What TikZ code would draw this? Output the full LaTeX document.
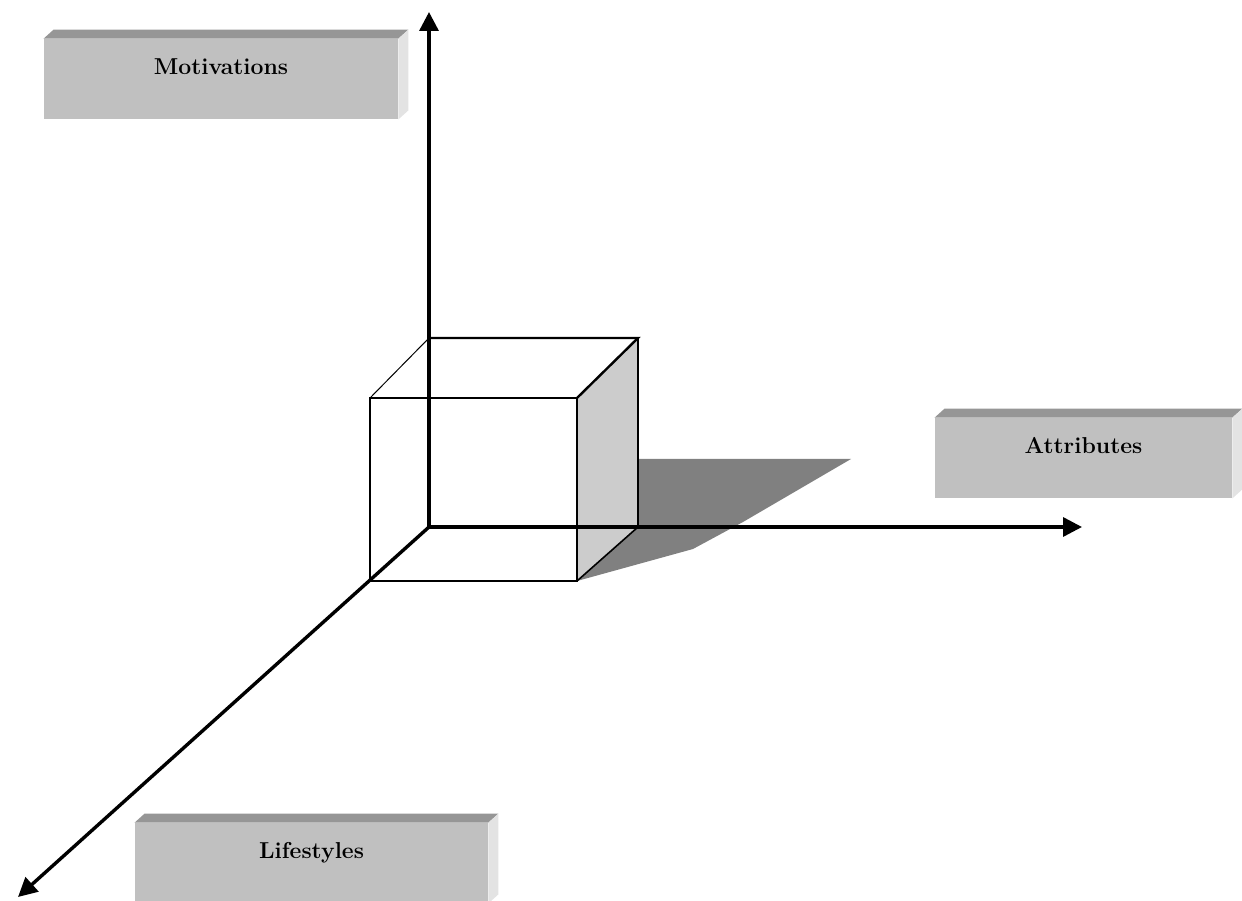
\documentclass[tikz,border=0pt]{standalone}
\usepackage{tikz}
\usetikzlibrary{arrows.meta}

\definecolor{panelfront}{HTML}{C0C0C0}
\definecolor{paneltop}{HTML}{969696}
\definecolor{panelside}{HTML}{E3E3E3}
\definecolor{faceside}{HTML}{CCCCCC}
\definecolor{shadowgray}{HTML}{808080}

\begin{document}
\begin{tikzpicture}[x=0.5pt, y=0.5pt, >={Triangle[length=9.5pt, width=9.5pt]},
  axis/.style={line width=1.7pt, ->},
  edge/.style={line width=1.2pt, line join=miter},
  panel/.style={fill=panelfront, minimum width=#1, minimum height=40pt, inner sep=0pt,
    text height=10pt, text depth=14.4pt, font=\fontsize{11.5}{13}\selectfont\bfseries}]
  \useasboundingbox (0,0) rectangle (1242,900);

  % Shadow of the cube
  \fill[shadowgray] (577,319) -- (638,373) -- (638,441) -- (851,441) -- (743,378) -- (693,351) -- cycle;

  % Cube corners (front A,B,C,D; back O,E,F,G)
  \coordinate (O) at (429,373);
  \coordinate (A) at (370,319);
  \coordinate (B) at (577,319);
  \coordinate (C) at (577,502);
  \coordinate (D) at (370,502);
  \coordinate (E) at (638,373);
  \coordinate (F) at (638,562);
  \coordinate (G) at (429,562);

  % Right face and edges
  \fill[faceside] (B) -- (E) -- (F) -- (C) -- cycle;
  \draw[edge] (A) -- (B) -- (C) -- (D) -- cycle;
  \draw[edge] (C) -- (F) -- (G);
  \draw[edge] (F) -- (E);
  \draw[line width=0.8pt] (B) -- (E);
  \draw[line width=0.5pt] (D) -- (G);

  % Axes
  \coordinate (ytip) at (429,888);
  \coordinate (xtip) at (1082,373);
  \coordinate (ztip) at (18,3);
  \draw[axis] (O) -- (ytip);
  \draw[axis] (O) -- (xtip);
  \draw[axis] (O) -- (ztip);

  % Labels
  \node[panel=177pt] (mot) at (221,821) {Motivations};
  \node[panel=148.5pt] (att) at (1083.5,442) {Attributes};
  \node[panel=176.5pt] (life) at (311.5,37) {Lifestyles};

  % Bevels of the label boxes
  \foreach \b in {mot,att,life}{
    \fill[paneltop] (\b.north west) -- ++(10,9) -- ([shift={(10,9)}]\b.north east) -- (\b.north east) -- cycle;
    \fill[panelside] (\b.north east) -- ++(10,9) -- ([shift={(10,9)}]\b.south east) -- (\b.south east) -- cycle;
  }
\end{tikzpicture}
\end{document}
